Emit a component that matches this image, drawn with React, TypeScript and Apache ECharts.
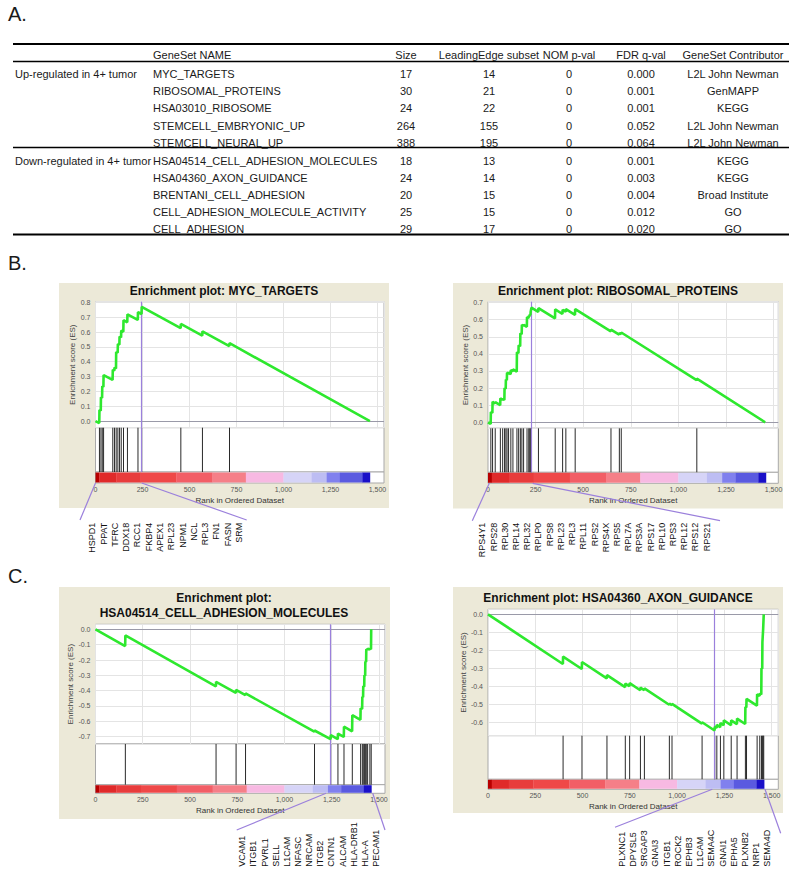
import React, { useEffect, useRef } from 'react';
import * as echarts from 'echarts';

const FONT = '"Liberation Sans", Arial, Helvetica, sans-serif';

// ---------------- Table (panel A) ----------------
const tableHeaders = ['GeneSet NAME', 'Size', 'LeadingEdge subset', 'NOM p-val', 'FDR q-val', 'GeneSet Contributor'];
const groupLabels = ['Up-regulated in 4+ tumor', 'Down-regulated in 4+ tumor'];
const geneSetNames = [
  'MYC_TARGETS', 'RIBOSOMAL_PROTEINS', 'HSA03010_RIBOSOME', 'STEMCELL_EMBRYONIC_UP', 'STEMCELL_NEURAL_UP',
  'HSA04514_CELL_ADHESION_MOLECULES', 'HSA04360_AXON_GUIDANCE', 'BRENTANI_CELL_ADHESION',
  'CELL_ADHESION_MOLECULE_ACTIVITY', 'CELL_ADHESION',
];
const sizes = [17, 30, 24, 264, 388, 18, 24, 20, 25, 29];
const leadingEdgeSizes = [14, 21, 22, 155, 195, 13, 14, 15, 15, 17];
const nomPvals = ['0', '0', '0', '0', '0', '0', '0', '0', '0', '0'];
const fdrQvals = ['0.000', '0.001', '0.001', '0.052', '0.064', '0.001', '0.003', '0.004', '0.012', '0.020'];
const contributors = [
  'L2L John Newman', 'GenMAPP', 'KEGG', 'L2L John Newman', 'L2L John Newman',
  'KEGG', 'KEGG', 'Broad Institute', 'GO', 'GO',
];

// ---------------- Ranked list colour bar ----------------
const rankTickValues = [0, 250, 500, 750, 1000, 1250, 1500];
const colorbarStarts = [0, 20, 110, 240, 430, 620, 800, 1000, 1150, 1230, 1300, 1420];
const colorbarEnd = 1460;
const colorbarColors = [
  '#b80000', '#e02a2a', '#e83c3c', '#ef4848', '#f25e66', '#f57f88',
  '#f7b9e2', '#d6d4f7', '#bdbdf3', '#8080ee', '#5a5ae0', '#1a10c8',
];

// ---------------- MYC_TARGETS ----------------
const mycTitle = ['Enrichment plot: MYC_TARGETS'];
const mycHits = [21, 29, 36, 43, 92, 101, 110, 119, 128, 137, 149, 170, 226, 246, 454, 569, 713];
const mycPeak = 246;
const mycES = [
  [0, 0], [20, -0.014], [21, 0.075], [28, 0.07], [29, 0.16], [35, 0.156], [36, 0.235], [42, 0.23], [43, 0.31],
  [91, 0.277], [92, 0.345], [100, 0.34], [101, 0.36], [109, 0.354], [110, 0.465], [118, 0.46], [119, 0.52],
  [127, 0.514], [128, 0.57], [136, 0.564], [137, 0.61], [148, 0.602], [149, 0.68], [169, 0.666], [170, 0.72],
  [225, 0.682], [226, 0.735], [245, 0.722], [246, 0.77], [453, 0.626], [454, 0.655], [568, 0.576], [569, 0.605],
  [712, 0.506], [713, 0.525], [1460, 0],
];
const mycGenes = ['HSPD1', 'PPAT', 'TFRC', 'DDX18', 'RCC1', 'FKBP4', 'APEX1', 'RPL23', 'NPM1', 'NCL', 'RPL3', 'FN1', 'FASN', 'SRM'];

// ---------------- RIBOSOMAL_PROTEINS ----------------
const riboTitle = ['Enrichment plot: RIBOSOMAL_PROTEINS'];
const riboHits = [
  15, 24, 38, 65, 77, 87, 94, 100, 108, 120, 131, 152, 161, 170, 178, 187, 205, 214, 219, 224, 228,
  265, 353, 392, 409, 458, 646, 690, 700, 1097,
];
const riboPeak = 228;
const riboES = [
  [0, 0], [14, -0.01], [15, 0.06], [23, 0.055], [24, 0.12], [37, 0.111], [38, 0.118], [64, 0.1], [65, 0.14],
  [76, 0.132], [77, 0.137], [86, 0.131], [87, 0.2], [93, 0.196], [94, 0.25], [99, 0.246], [100, 0.29],
  [107, 0.285], [108, 0.29], [119, 0.282], [120, 0.305], [130, 0.298], [131, 0.31], [151, 0.296], [152, 0.41],
  [160, 0.404], [161, 0.45], [169, 0.444], [170, 0.52], [177, 0.515], [178, 0.57], [186, 0.564], [187, 0.57],
  [204, 0.558], [205, 0.615], [213, 0.609], [214, 0.622], [218, 0.619], [219, 0.63], [223, 0.627], [224, 0.645],
  [227, 0.643], [228, 0.67], [264, 0.645], [265, 0.668], [352, 0.607], [353, 0.66], [391, 0.633], [392, 0.658],
  [408, 0.646], [409, 0.662], [457, 0.628], [458, 0.662], [645, 0.531], [646, 0.542], [689, 0.512], [690, 0.522],
  [699, 0.516], [700, 0.525], [1096, 0.247], [1097, 0.255], [1456, 0],
];
const riboGenes = [
  'RPS4Y1', 'RPS28', 'RPL30', 'RPL14', 'RPL32', 'RPLP0', 'RPS8', 'RPL23', 'RPL3', 'RPL11', 'RPS2',
  'RPS4X', 'RPS5', 'RPL7A', 'RPS3A', 'RPS17', 'RPL10', 'RPS3', 'RPL12', 'RPS12', 'RPS21',
];

// ---------------- HSA04514_CELL_ADHESION_MOLECULES ----------------
const camTitle = ['Enrichment plot:', 'HSA04514_CELL_ADHESION_MOLECULES'];
const camHits = [158, 638, 744, 794, 1159, 1245, 1283, 1315, 1359, 1403, 1412, 1417, 1423, 1428, 1433, 1440, 1452, 1459];
const camPeak = 1244;
const camES = [
  [0, 0], [157, -0.109], [158, -0.04], [637, -0.372], [638, -0.342], [743, -0.415], [744, -0.395],
  [793, -0.429], [794, -0.418], [1158, -0.668], [1159, -0.66], [1244, -0.716], [1245, -0.69],
  [1282, -0.716], [1283, -0.68], [1314, -0.702], [1315, -0.635], [1358, -0.665], [1359, -0.56],
  [1402, -0.59], [1403, -0.515], [1411, -0.52], [1412, -0.44], [1416, -0.443], [1417, -0.37],
  [1422, -0.374], [1423, -0.3], [1427, -0.303], [1428, -0.21], [1432, -0.213], [1433, -0.13],
  [1439, -0.134], [1440, -0.125], [1451, -0.133], [1452, -0.125], [1458, -0.129], [1459, 0],
];
const camGenes = ['VCAM1', 'ITGB1', 'PVRL1', 'SELL', 'L1CAM', 'NFASC', 'NRCAM', 'ITGB2', 'CNTN1', 'ALCAM', 'HLA-DRB1', 'HLA-A', 'PECAM1'];

// ---------------- HSA04360_AXON_GUIDANCE ----------------
const axonTitle = ['Enrichment plot: HSA04360_AXON_GUIDANCE'];
const axonHits = [
  397, 497, 629, 726, 749, 806, 827, 959, 973, 1132,
  1199, 1210, 1229, 1247, 1286, 1317, 1361, 1367, 1423, 1437, 1446, 1451, 1455, 1458,
];
const axonPeak = 1198;
const axonES = [
  [0, 0], [396, -0.276], [397, -0.235], [496, -0.304], [497, -0.265], [628, -0.356], [629, -0.338],
  [725, -0.405], [726, -0.385], [748, -0.4], [749, -0.383], [805, -0.422], [806, -0.408], [826, -0.422],
  [827, -0.412], [958, -0.503], [959, -0.496], [972, -0.505], [973, -0.498], [1131, -0.608], [1132, -0.6],
  [1198, -0.646], [1199, -0.625], [1209, -0.632], [1210, -0.615], [1228, -0.628], [1229, -0.605],
  [1246, -0.617], [1247, -0.59], [1285, -0.617], [1286, -0.59], [1316, -0.611], [1317, -0.58],
  [1360, -0.61], [1361, -0.515], [1366, -0.518], [1367, -0.47], [1422, -0.508], [1423, -0.445],
  [1436, -0.454], [1437, -0.44], [1445, -0.446], [1446, -0.3], [1450, -0.303], [1451, -0.155],
  [1454, -0.157], [1455, -0.08], [1457, -0.081], [1458, 0],
];
const axonGenes = ['PLXNC1', 'DPYSL5', 'SRGAP3', 'GNAI3', 'ITGB1', 'ROCK2', 'EPHB3', 'L1CAM', 'SEMA4C', 'GNAI1', 'EPHA5', 'PLXNB2', 'NRP1', 'SEMA4D'];

// ---------------- Layout (positions only) ----------------
const panels = [
  {
    title: mycTitle, es: mycES, hits: mycHits, peak: mycPeak, genes: mycGenes,
    bg: [59, 283, 330, 225], titleX: 224, titleY: [291],
    grid: { left: 95.5, top: 301.7, width: 288.5, height: 126 }, hitsH: 44.3, cbH: 11,
    xMax: 1535, yMin: -0.045, yMax: 0.805,
    geneAlign: 'right', geneY: 522.7, geneX0: 92.3, geneStep: 11.28,
    connectors: [[95.5, 483, 80, 520], [141.7, 483, 246.7, 520]],
  },
  {
    title: riboTitle, es: riboES, hits: riboHits, peak: riboPeak, genes: riboGenes,
    bg: [453, 283, 330, 225.5], titleX: 618, titleY: [291],
    grid: { left: 488, top: 301.7, width: 290.3, height: 126.6 }, hitsH: 44, cbH: 11,
    xMax: 1525, yMin: -0.035, yMax: 0.705,
    geneAlign: 'right', geneY: 522.7, geneX0: 482.3, geneStep: 11.22,
    connectors: [[489.3, 483.3, 472.3, 520.7], [532.7, 483.3, 720, 520.7]],
  },
  {
    title: camTitle, es: camES, hits: camHits, peak: camPeak, genes: camGenes,
    bg: [59, 587, 331, 232], titleX: 224, titleY: [598, 613],
    grid: { left: 95.5, top: 624.3, width: 289.5, height: 119.7 }, hitsH: 40.7, cbH: 8.6,
    xMax: 1532, yMin: -0.748, yMax: 0.033,
    geneAlign: 'left', geneY: 866.7, geneX0: 242.3, geneStep: 11.14,
    connectors: [[326, 793.3, 236.7, 830], [372.7, 793.3, 385, 830]],
  },
  {
    title: axonTitle, es: axonES, hits: axonHits, peak: axonPeak, genes: axonGenes,
    bg: [453, 587, 330, 226], titleX: 618, titleY: [598],
    grid: { left: 488, top: 609.3, width: 290.3, height: 126.4 }, hitsH: 43.6, cbH: 10,
    xMax: 1535, yMin: -0.675, yMax: 0.028,
    geneAlign: 'left', geneY: 866.7, geneX0: 621.7, geneStep: 11.2,
    connectors: [[712.3, 789.3, 615, 827.3], [765, 789.3, 780.7, 833.3]],
  },
];

const PURPLE = '#9b80dc';
const GREEN = '#2ee82e';

function buildOption() {
  const grids: any[] = [];
  const xAxes: any[] = [];
  const yAxes: any[] = [];
  const series: any[] = [];
  const g: any[] = [];

  const text = (x: number, y: number, t: string, o: any = {}) => {
    const align = o.align ?? 'left';
    const valign = o.valign ?? 'middle';
    g.push({
      type: 'text', x, y, z: 20, rotation: o.rotation ?? 0,
      style: {
        text: t, fontSize: o.size ?? 11, fontFamily: FONT, fontWeight: o.weight ?? 'normal',
        fill: o.color ?? '#1a1a1a', align, verticalAlign: valign, textAlign: align, textVerticalAlign: valign,
      },
    });
  };
  const line = (x1: number, y1: number, x2: number, y2: number, stroke: string, w: number) => {
    g.push({ type: 'line', z: 20, shape: { x1, y1, x2, y2 }, style: { stroke, lineWidth: w } });
  };

  // Section letters
  text(8, 14, 'A.', { size: 20 });
  text(8, 263, 'B.', { size: 20 });
  text(8, 576, 'C.', { size: 20 });

  // Table
  line(13, 44, 789, 44, '#000', 2);
  line(13, 61.5, 789, 61.5, '#000', 1.3);
  line(13, 147.5, 789, 147.5, '#000', 1.3);
  line(13, 234.5, 789, 234.5, '#000', 2);
  const colX = [153, 406, 489, 569, 641, 733];
  tableHeaders.forEach((h, i) => text(colX[i], 54.5, h, { align: i === 0 ? 'left' : 'center' }));
  const rowY = (i: number) => (i < 5 ? 73.5 + i * 17.45 : 160.8 + (i - 5) * 17.15);
  text(15, rowY(0), groupLabels[0]);
  text(15, rowY(5), groupLabels[1]);
  geneSetNames.forEach((n, i) => {
    const y = rowY(i);
    text(colX[0], y, n);
    text(colX[1], y, String(sizes[i]), { align: 'center' });
    text(colX[2], y, String(leadingEdgeSizes[i]), { align: 'center' });
    text(colX[3], y, nomPvals[i], { align: 'center' });
    text(colX[4], y, fdrQvals[i], { align: 'center' });
    text(colX[5], y, contributors[i], { align: 'center' });
  });

  const xFmt = (v: number) => (rankTickValues.indexOf(v) >= 0 ? v.toLocaleString('en-US') : '');
  const yFmt = (v: number) => {
    const t = Math.round(v * 10);
    return Math.abs(v * 10 - t) < 1e-6 ? (t / 10).toFixed(1) : '';
  };

  panels.forEach((p, pi) => {
    const [bx, by, bw, bh] = p.bg;
    g.push({ type: 'rect', z: -10, shape: { x: bx, y: by, width: bw, height: bh }, style: { fill: '#ECE9D8' } });
    p.title.forEach((t, ti) => text(p.titleX, p.titleY[ti], t, { align: 'center', size: 12, weight: 'bold', color: '#111' }));

    const gl = p.grid;
    const esIdx = pi * 3;
    const hitIdx = esIdx + 1;
    const cbIdx = esIdx + 2;
    const hitsTop = gl.top + gl.height;
    const cbTop = hitsTop + p.hitsH;
    const common = { show: true, backgroundColor: '#fff', borderColor: '#a9a9a9', borderWidth: 1 };
    grids.push({ ...common, left: gl.left, top: gl.top, width: gl.width, height: gl.height });
    grids.push({ ...common, left: gl.left, top: hitsTop, width: gl.width, height: p.hitsH });
    grids.push({ ...common, left: gl.left, top: cbTop, width: gl.width, height: p.cbH });

    const baseX = {
      type: 'value', min: 0, max: p.xMax, interval: 250,
      axisLine: { show: false, onZero: false }, axisTick: { show: false },
    };
    xAxes.push({ ...baseX, gridIndex: esIdx, axisLabel: { show: false }, splitLine: { show: true, lineStyle: { color: '#e4e4e4', width: 1 } } });
    xAxes.push({ ...baseX, gridIndex: hitIdx, axisLabel: { show: false }, splitLine: { show: false } });
    xAxes.push({
      ...baseX, gridIndex: cbIdx, splitLine: { show: false },
      axisLabel: { show: true, fontSize: 7, color: '#555', margin: 3, formatter: xFmt, fontFamily: FONT },
      name: 'Rank in Ordered Dataset', nameLocation: 'middle', nameGap: 13,
      nameTextStyle: { fontSize: 8, color: '#333', fontFamily: FONT },
    });

    yAxes.push({
      gridIndex: esIdx, type: 'value', min: p.yMin, max: p.yMax, minInterval: 0.1, maxInterval: 0.1, splitNumber: 8,
      axisLine: { show: false }, axisTick: { show: false },
      axisLabel: { fontSize: 7, color: '#555', margin: 5, formatter: yFmt, fontFamily: FONT },
      splitLine: { show: true, lineStyle: { color: '#e4e4e4', width: 1 } },
      name: 'Enrichment score (ES)', nameLocation: 'middle', nameGap: 17, nameRotate: 90,
      nameTextStyle: { fontSize: 8, color: '#444', fontFamily: FONT },
    });
    yAxes.push({ gridIndex: hitIdx, type: 'value', min: 0, max: 1, show: false });
    yAxes.push({ gridIndex: cbIdx, type: 'value', min: 0, max: 1, show: false });

    series.push({
      type: 'line', xAxisIndex: esIdx, yAxisIndex: esIdx, data: p.es, showSymbol: false,
      lineStyle: { color: GREEN, width: 2.6 }, itemStyle: { color: GREEN }, z: 5,
      markLine: {
        silent: true, symbol: ['none', 'none'], label: { show: false }, animation: false,
        data: [
          { yAxis: 0, lineStyle: { color: '#9a9aa8', width: 1, type: 'solid' } },
          { xAxis: p.peak, lineStyle: { color: PURPLE, width: 1.2, type: 'solid' } },
        ],
      },
    });

    series.push({
      type: 'custom', xAxisIndex: hitIdx, yAxisIndex: hitIdx, data: p.hits.map((h) => [h]),
      renderItem: (params: any, api: any) => {
        const x = api.coord([api.value(0), 0])[0];
        const cs = params.coordSys;
        return { type: 'line', shape: { x1: x, y1: cs.y, x2: x, y2: cs.y + cs.height }, style: { stroke: '#2a2a2a', lineWidth: 1 } };
      },
      markLine: {
        silent: true, symbol: ['none', 'none'], label: { show: false }, animation: false,
        data: [{ xAxis: p.peak, lineStyle: { color: PURPLE, width: 1.2, type: 'solid' } }],
      },
    });

    series.push({
      type: 'custom', xAxisIndex: cbIdx, yAxisIndex: cbIdx,
      data: colorbarStarts.map((s, i) => [s, i + 1 < colorbarStarts.length ? colorbarStarts[i + 1] : colorbarEnd, i]),
      renderItem: (params: any, api: any) => {
        const x1 = api.coord([api.value(0), 0])[0];
        const x2 = api.coord([api.value(1), 0])[0];
        const cs = params.coordSys;
        return { type: 'rect', shape: { x: x1, y: cs.y + 0.5, width: x2 - x1 + 0.3, height: cs.height - 1 }, style: { fill: colorbarColors[api.value(2)] } };
      },
    });

    // Leading-edge gene labels and connectors
    p.genes.forEach((gname, gi) => {
      text(p.geneX0 + gi * p.geneStep, p.geneY, gname, { align: p.geneAlign, rotation: Math.PI / 2, size: 9, color: '#111' });
    });
    p.connectors.forEach((c) => line(c[0], c[1], c[2], c[3], PURPLE, 1.2));
  });

  return {
    animation: false,
    backgroundColor: '#fff',
    textStyle: { fontFamily: FONT },
    grid: grids,
    xAxis: xAxes,
    yAxis: yAxes,
    series,
    graphic: { elements: g },
  };
}

export default function App() {
  const ref = useRef<HTMLDivElement>(null);
  useEffect(() => {
    if (!ref.current) return;
    const chart = echarts.init(ref.current, null, { renderer: 'svg' });
    chart.setOption(buildOption() as any);
    return () => chart.dispose();
  }, []);
  return <div ref={ref} style={{ position: 'absolute', left: 0, top: 0, width: 800, height: 874, background: '#fff' }} />;
}
